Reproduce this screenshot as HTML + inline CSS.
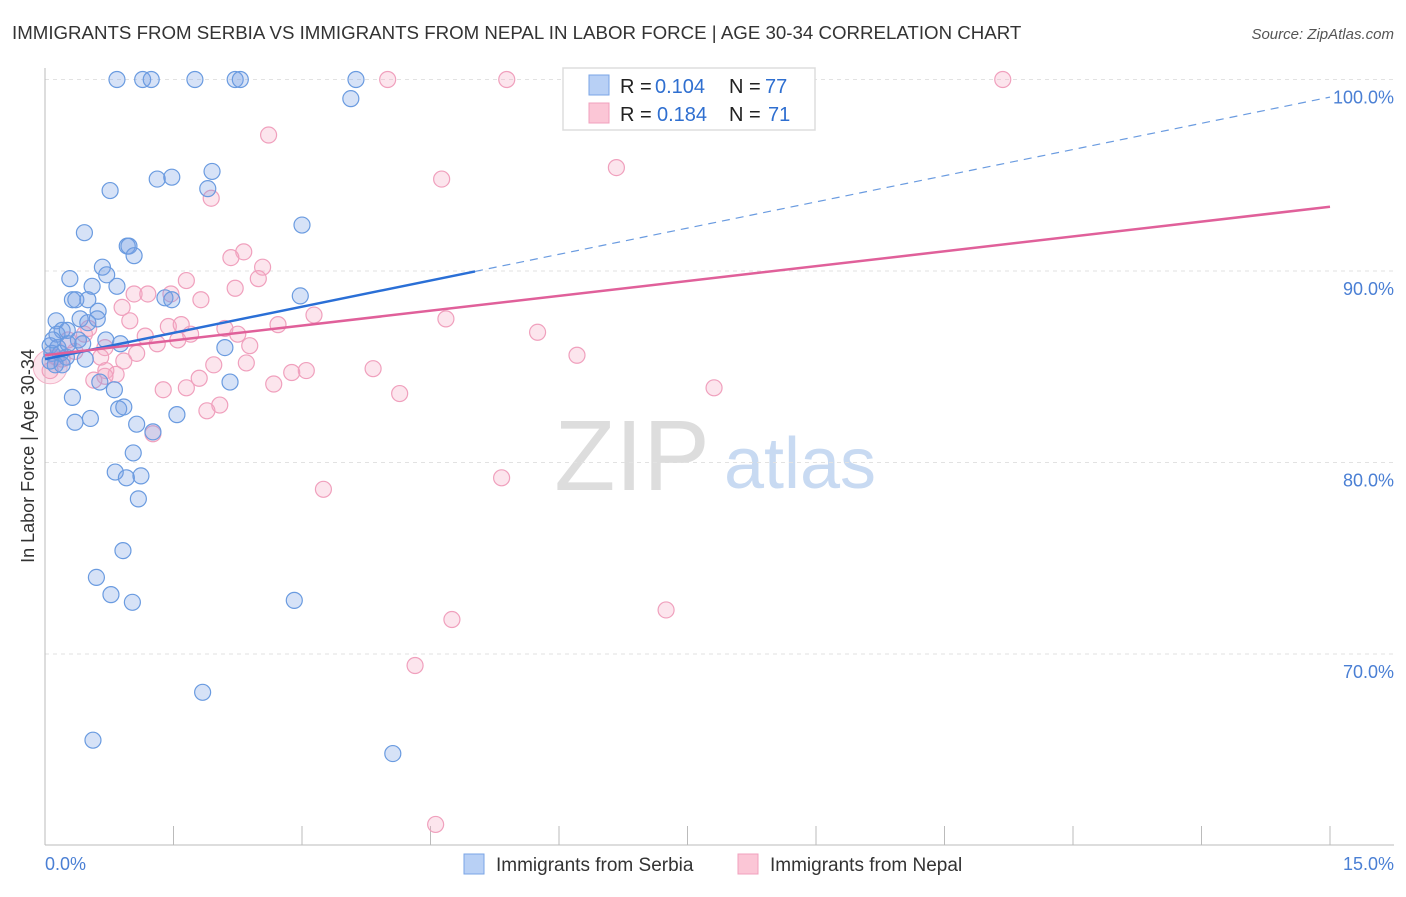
<!DOCTYPE html>
<html><head><meta charset="utf-8"><style>
body{margin:0;background:#fff;font-family:"Liberation Sans",sans-serif}
svg text{font-family:"Liberation Sans",sans-serif}
</style></head><body>
<svg id="chart" width="1406" height="892" viewBox="0 0 1406 892">
<text x="12" y="39" font-size="18.7" fill="#333">IMMIGRANTS FROM SERBIA VS IMMIGRANTS FROM NEPAL IN LABOR FORCE | AGE 30-34 CORRELATION CHART</text>
<text x="1394" y="39" font-size="15" fill="#555" font-style="italic" text-anchor="end">Source: ZipAtlas.com</text>
<text x="632" y="490" font-size="100" fill="#ddd" font-family="Liberation Serif" text-anchor="middle">ZIP</text>
<text x="800" y="488" font-size="72" fill="#c8daf2" text-anchor="middle">atlas</text>
<g id="grid"></g><g id="axes"></g><g id="pts"></g><g id="lines"></g>
<text transform="translate(34,456) rotate(-90)" font-size="18" fill="#333" text-anchor="middle">In Labor Force | Age 30-34</text>
<text x="45" y="870" font-size="18" fill="#4a7fd4">0.0%</text>
<text x="1394" y="870" font-size="18" fill="#4a7fd4" text-anchor="end">15.0%</text>
<g>
<rect x="563" y="68" width="252" height="62" fill="#fff" stroke="#ddd" stroke-width="1.5"/>
<rect x="589" y="75" width="20" height="20" fill="#b8d0f5" stroke="#7aa4e6"/>
<rect x="589" y="103" width="20" height="20" fill="#fbc6d6" stroke="#f0a0bd"/>
<text x="620" y="93" font-size="20" fill="#222">R = </text>
<text x="655" y="93" font-size="20" fill="#2f6fd0">0.104</text>
<text x="729" y="93" font-size="20" fill="#222">N = </text>
<text x="765" y="93" font-size="20" fill="#2f6fd0">77</text>
<text x="620" y="121" font-size="20" fill="#222">R = </text>
<text x="657" y="121" font-size="20" fill="#2f6fd0">0.184</text>
<text x="729" y="121" font-size="20" fill="#222">N = </text>
<text x="768" y="121" font-size="20" fill="#2f6fd0">71</text>
</g>
<g>
<rect x="464" y="854" width="20" height="20" fill="#b8d0f5" stroke="#7aa4e6"/>
<text x="496" y="871" font-size="19" fill="#333">Immigrants from Serbia</text>
<rect x="738" y="854" width="20" height="20" fill="#fbc6d6" stroke="#f0a0bd"/>
<text x="770" y="871" font-size="19" fill="#333">Immigrants from Nepal</text>
</g>
</svg>
<script>
const yTicks=[100,90,80,70];
const yTickLabels=["100.0%","90.0%","80.0%","70.0%"];
const xTicks=[0,1.5,3,4.5,6,7.5,9,10.5,12,13.5,15];
const serbiaX=[0.84,1.14,1.24,1.75,2.22,2.28,3.63,3.57,0.76,1.31,1.48,1.95,1.90,0.46,0.96,0.98,1.04,3.00,0.29,0.67,0.72,0.84,0.55,0.32,0.36,0.50,1.40,1.48,2.98,0.13,0.41,0.62,0.61,0.50,0.20,0.14,0.26,0.39,0.44,0.71,0.88,2.10,0.06,0.08,0.18,0.25,0.47,0.12,0.20,0.64,0.81,2.16,0.32,0.86,0.92,1.54,0.35,0.53,1.07,1.26,1.03,0.82,0.95,1.12,1.09,0.91,0.60,0.77,1.02,2.91,1.84,0.56,4.06,0.06,0.15,0.27,0.09];
const serbiaY=[100,100,100,100,100,100,100,99.0,94.2,94.8,94.9,95.2,94.3,92.0,91.3,91.3,90.8,92.4,89.6,90.2,89.8,89.2,89.2,88.5,88.5,88.5,88.6,88.5,88.7,87.4,87.5,87.9,87.5,87.3,86.9,86.7,86.9,86.4,86.2,86.4,86.2,86.0,86.1,85.7,85.7,85.5,85.4,85.1,85.1,84.2,83.8,84.2,83.4,82.8,82.9,82.5,82.1,82.3,82.0,81.6,80.5,79.5,79.2,79.3,78.1,75.4,74.0,73.1,72.7,72.8,68.0,65.5,64.8,85.3,86.0,86.2,86.4];
const nepalX=[4.00,5.39,6.30,6.79,11.18,2.61,4.63,6.67,1.94,2.32,2.17,2.54,2.49,1.65,2.22,1.04,1.20,1.47,1.82,0.90,3.14,1.44,1.59,2.72,4.68,5.75,0.51,2.10,2.25,1.70,1.17,1.55,1.31,0.70,1.07,0.35,6.21,0.65,0.92,1.97,2.35,0.20,3.83,3.05,2.88,0.71,0.83,0.70,1.80,2.67,1.38,7.81,4.14,2.04,1.89,1.26,5.33,3.25,7.25,4.75,4.32,4.56,0.06,0.13,0.27,0.46,0.57,1.65,2.39,0.99];
const nepalY=[100,100,100,100,100,97.1,94.8,95.4,93.8,91.0,90.7,90.2,89.6,89.5,89.1,88.8,88.8,88.8,88.5,88.1,87.7,87.1,87.2,87.2,87.5,86.8,87.0,87.0,86.7,86.7,86.6,86.4,86.2,86.0,85.7,85.8,85.6,85.5,85.3,85.1,85.2,85.4,84.9,84.8,84.7,84.8,84.6,84.5,84.4,84.1,83.8,83.9,83.6,83.0,82.7,81.5,79.2,78.6,72.3,71.8,69.4,61.1,84.8,85.5,86.4,86.7,84.3,83.9,86.1,87.4];
const serbiaFit=[85.4,0.912];
const nepalFit=[85.6,0.517];
const NS='http://www.w3.org/2000/svg';
const X0=45,X1=1330,Y0=845;
const sx=v=>X0+(v/15)*(X1-X0);
const sy=v=>654-(v-70)*19.15;
function mk(tag,attrs,parent){const e=document.createElementNS(NS,tag);for(const k in attrs)e.setAttribute(k,attrs[k]);parent.appendChild(e);return e;}
const grid=document.getElementById('grid'),axes=document.getElementById('axes'),pts=document.getElementById('pts'),lines=document.getElementById('lines');
yTicks.forEach((t,i)=>{
 const l=mk('line',{x1:X0,x2:1394,y1:sy(t),y2:sy(t),stroke:'#e2e2e2','stroke-dasharray':'4,4'},grid);
 
 
 const tx=mk('text',{x:1394,y:sy(t)+24,'font-size':18,fill:'#4a7fd4','text-anchor':'end'},grid);
 tx.textContent=yTickLabels[i];
 
 
});
const ya=mk('line',{x1:X0,x2:X0,y1:68,y2:Y0,stroke:'#bbb'},axes);


const xa=mk('line',{x1:X0,x2:1394,y1:Y0,y2:Y0,stroke:'#bbb'},axes);


xTicks.forEach(t=>{
 const l=mk('line',{x1:sx(t),x2:sx(t),y1:Y0,y2:Y0-19,stroke:'#bbb'},axes);
 
 
});
function dots(xs,ys,fill,stroke,name){
 xs.forEach((x,i)=>{
  const c=mk('circle',{cx:sx(x),cy:sy(ys[i]),r:8,fill:fill,stroke:stroke,'stroke-width':1.2},pts);
  
  
 });
}
const big=mk('circle',{cx:sx(0.06),cy:sy(85.0),r:17,fill:'rgba(245,170,195,0.3)',stroke:'#f3b3c8'},pts);


dots(nepalX,nepalY,'rgba(245,170,195,0.3)','#f0a0bd','nepal-point');
dots(serbiaX,serbiaY,'rgba(120,160,230,0.3)','#6a9be0','serbia-point');
const f=(p,x)=>p[0]+p[1]*x;
const bs=mk('line',{x1:sx(0),y1:sy(f(serbiaFit,0)),x2:sx(5.02),y2:sy(f(serbiaFit,5.02)),stroke:'#2a6fd6','stroke-width':2.5},lines);


const bd=mk('line',{x1:sx(5.02),y1:sy(f(serbiaFit,5.02)),x2:sx(15),y2:sy(f(serbiaFit,15)),stroke:'#6a9be0','stroke-width':1.2,'stroke-dasharray':'8,6'},lines);


const pl=mk('line',{x1:sx(0),y1:sy(f(nepalFit,0)),x2:sx(15),y2:sy(f(nepalFit,15)),stroke:'#e0609a','stroke-width':2.5},lines);


</script>
</body></html>
